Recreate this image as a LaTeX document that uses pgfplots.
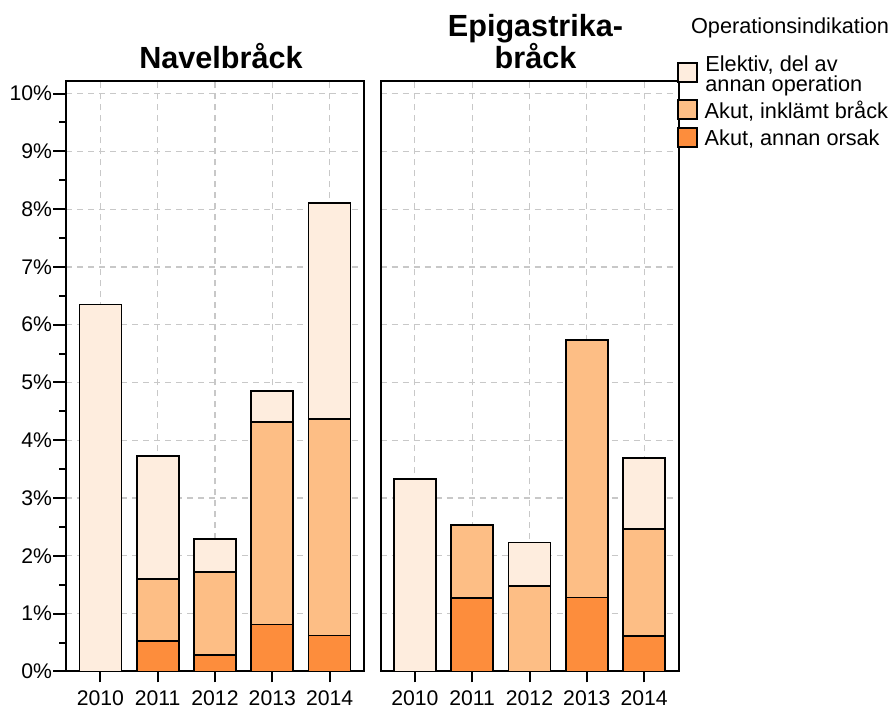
\documentclass[border=0pt]{standalone}
\usepackage{pgfplots}
\usepackage{pgfplotstable}
\pgfplotsset{compat=1.18}
\usepackage{fontspec}
\setmainfont{Liberation Sans}
\definecolor{elektiv}{HTML}{FEEDDE}
\definecolor{inklamt}{HTML}{FDBE85}
\definecolor{annan}{HTML}{FD8D3C}
\definecolor{gridc}{HTML}{C8C8C8}

\pgfplotstableread{
x annan inklamt elektiv
0 0    0    6.35
1 0.53 1.07 2.13
2 0.28 1.44 0.57
3 0.81 3.51 0.53
4 0.62 3.75 3.74
}\navel

\pgfplotstableread{
x annan inklamt elektiv
0 0    0    3.33
1 1.27 1.26 0
2 0    1.48 0.75
3 1.28 4.45 0
4 0.61 1.85 1.23
}\epig

\pgfplotsset{
  panel/.style={
    scale only axis,
    width=149pt, height=295pt,
    xmin=-0.6, xmax=4.6, ymin=0, ymax=10.21,
    ybar stacked, bar width=21pt,
    axis line style={line width=1pt},
    xtick={0,1,2,3,4},
    xticklabels={2010,2011,2012,2013,2014},
    ytick={0,1,...,10},
    tick align=outside,
    xtick pos=bottom, ytick pos=left,
    xtick style={line width=1pt, black, /pgfplots/major tick length=5.5pt},
    grid=major,
    major grid style={gridc, line width=0.6pt, dash pattern=on 3pt off 2.5pt},
    /pgf/number format/assume math mode=true,
    tick label style={font=\fontsize{10.6}{12}\selectfont, black},
    xticklabel style={inner sep=0pt, yshift=-5pt},
    every axis title shift=0pt,
    title style={anchor=south, inner sep=0pt, text depth=0pt, yshift=6.2pt, xshift=3pt, align=center, font=\fontsize{15.3}{16.2}\selectfont\bfseries},
    every axis plot/.append style={draw=black, line width=0.85pt},
  }
}

\begin{document}
\begin{tikzpicture}
\useasboundingbox (0,0) rectangle (446.5pt,-353.5pt);

\begin{axis}[panel, at={(33pt,-335.7pt)}, anchor=south west,
  title={Navelbråck},
  minor ytick={0.5,1.5,...,9.5},
  ytick style={line width=1pt, black, /pgfplots/major tick length=6.5pt, /pgfplots/minor tick length=3.5pt},
  yticklabel={\pgfmathprintnumber{\tick}\%},
  yticklabel style={inner sep=0pt, xshift=-2.5pt},
]
\addplot[fill=annan] table[x=x, y=annan] {\navel};
\addplot[fill=inklamt] table[x=x, y=inklamt] {\navel};
\addplot[fill=elektiv] table[x=x, y=elektiv] {\navel};
\end{axis}

\begin{axis}[panel, at={(190.25pt,-335.7pt)}, anchor=south west,
  title={Epigastrika-\\bråck},
  yticklabels={},
  ytick style={/pgfplots/major tick length=0pt},
]
\addplot[fill=annan] table[x=x, y=annan] {\epig};
\addplot[fill=inklamt] table[x=x, y=inklamt] {\epig};
\addplot[fill=elektiv] table[x=x, y=elektiv] {\epig};
\end{axis}

% legend
\begin{scope}[every node/.style={inner sep=0pt, font=\fontsize{10.85}{12}\selectfont}]
\node[anchor=base west] at (345.35pt,-16.65pt) {Operationsindikation};
\draw[line width=0.85pt, fill=elektiv] (339.15pt,-31.65pt) rectangle (348.65pt,-40.85pt);
\draw[line width=0.85pt, fill=inklamt] (339.15pt,-50pt) rectangle (348.65pt,-59.65pt);
\draw[line width=0.85pt, fill=annan] (339.15pt,-63.85pt) rectangle (348.65pt,-73.35pt);
\node[anchor=base west] at (352.5pt,-35.85pt) {Elektiv, del av};
\node[anchor=base west] at (352.5pt,-45.85pt) {annan operation};
\node[anchor=base west] at (352.15pt,-59.15pt) {Akut, inklämt bråck};
\node[anchor=base west] at (352.15pt,-72.85pt) {Akut, annan orsak};
\end{scope}
\end{tikzpicture}
\end{document}
